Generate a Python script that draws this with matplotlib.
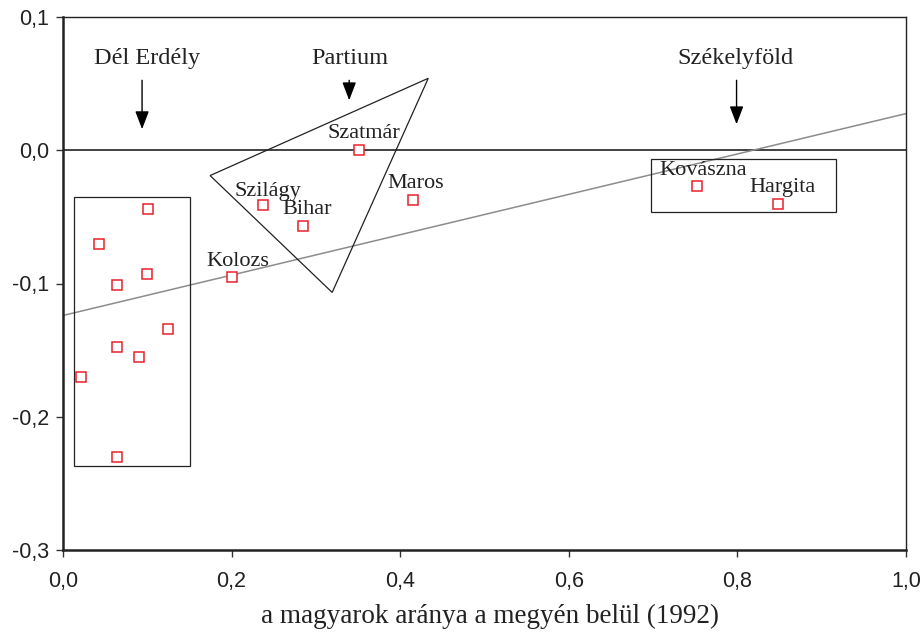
import numpy as np
import matplotlib
matplotlib.use("Agg")
import matplotlib.pyplot as plt
from matplotlib.patches import Rectangle, Polygon

# data
south_x = [0.101, 0.043, 0.064, 0.100, 0.125, 0.064, 0.090, 0.021, 0.064]
south_y = [-0.044, -0.070, -0.101, -0.093, -0.134, -0.148, -0.155, -0.170, -0.230]

named = ["Kolozs", "Szilágy", "Bihar", "Szatmár", "Maros", "Kovászna", "Hargita"]
named_x = [0.201, 0.237, 0.285, 0.351, 0.415, 0.752, 0.848]
named_y = [-0.095, -0.041, -0.057, 0.000, -0.037, -0.027, -0.040]

fit_a, fit_b = -0.124, 0.1515   # trend line y = a + b*x

groups = ["Dél Erdély", "Partium", "Székelyföld"]
group_x = [0.0997, 0.3403, 0.7976]
arrow_x = [0.0938, 0.3395, 0.799]
arrow_end = [0.0158, 0.0375, 0.0195]

# label offsets in pixels (left, baseline) relative to the point
label_off = {"Kolozs": (-26, 11), "Szilágy": (-28, 9), "Bihar": (-21, 12),
             "Szatmár": (-31, 12), "Maros": (-25, 12), "Kovászna": (-38, 11),
             "Hargita": (-28, 12)}

serif = "Liberation Serif"
sans = "Liberation Sans"

fig = plt.figure(figsize=(9.22, 6.32), dpi=100)
ax = fig.add_axes([63 / 922, 1 - 550 / 632, 843 / 922, 533 / 632])
ax.set_xlim(0, 1.0)
ax.set_ylim(-0.3, 0.1)

# zero line and trend line
ax.axhline(0, color="#333333", lw=1.3, zorder=2)
xx = np.array([0.0, 1.0])
ax.plot(xx, fit_a + fit_b * xx, color="#8c8c8c", lw=1.1, zorder=2)

# grouping shapes
ax.add_patch(Rectangle((0.0126, -0.237), 0.1384, 0.202, fill=False,
                       ec="#222222", lw=0.9, zorder=3))
ax.add_patch(Rectangle((0.697, -0.0467), 0.220, 0.0405, fill=False,
                       ec="#222222", lw=0.9, zorder=3))
ax.add_patch(Polygon([(0.1745, -0.019), (0.4333, 0.054), (0.3193, -0.1067)],
                     closed=True, fill=False, ec="#222222", lw=0.9, zorder=3))

# points
ax.plot(south_x, south_y, "s", ms=7, mfc="white", mec="#e8202a", mew=1.1,
        ls="none", zorder=4)
ax.plot(named_x, named_y, "s", ms=7, mfc="white", mec="#e8202a", mew=1.1,
        ls="none", zorder=4)

for name, x, y in zip(named, named_x, named_y):
    ax.annotate(name, (x, y), xytext=label_off[name], textcoords="offset pixels",
                ha="left", va="baseline", fontsize=16, family=serif,
                color="#222222", zorder=5)

for g, gx, axx, ae in zip(groups, group_x, arrow_x, arrow_end):
    ax.text(gx, 0.065, g, ha="center", va="baseline", fontsize=17.5,
            family=serif, color="#222222")
    ax.annotate("", xy=(axx, ae), xytext=(axx, 0.0525),
                arrowprops=dict(arrowstyle="-|>,head_length=1.1,head_width=0.42",
                                color="black", lw=1.0, shrinkA=0, shrinkB=0))

# axes styling
ax.set_xticks(np.arange(0, 1.01, 0.2))
ax.set_yticks(np.arange(-0.3, 0.101, 0.1))
ax.set_xticklabels([f"{v:.1f}".replace(".", ",") for v in np.arange(0, 1.01, 0.2)])
ax.set_yticklabels([f"{v:.1f}".replace(".", ",").replace("-0,0", "0,0")
                    for v in np.arange(-0.3, 0.101, 0.1)])
for lab in ax.get_xticklabels() + ax.get_yticklabels():
    lab.set_family(sans)
    lab.set_fontsize(15.5)
    lab.set_color("#222222")
ax.tick_params(axis="x", length=5, width=1, pad=10, color="#333333")
ax.tick_params(axis="y", length=5, width=1, pad=5, color="#333333")
ax.spines["left"].set_linewidth(1.8)
ax.spines["bottom"].set_linewidth(1.8)
ax.spines["top"].set_linewidth(1.0)
ax.spines["right"].set_linewidth(1.0)
for s in ax.spines.values():
    s.set_color("#222222")

ax.set_xlabel("a magyarok aránya a megyén belül (1992)", family=serif,
              fontsize=19.5, color="#222222")
ax.xaxis.set_label_coords(0.5065, -0.137, transform=ax.transAxes)
ax.xaxis.label.set_va("baseline")

fig.savefig("out.png", dpi=100)
